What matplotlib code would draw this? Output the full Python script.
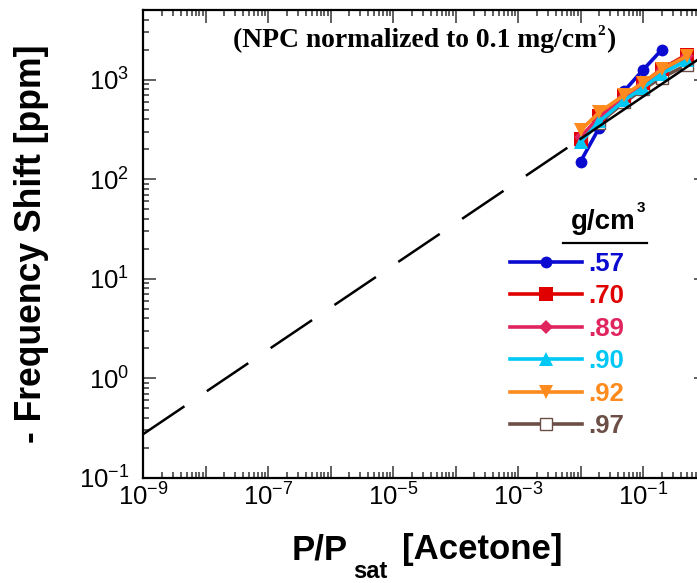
import matplotlib
matplotlib.use('Agg')
import matplotlib.pyplot as plt
from matplotlib.lines import Line2D
from matplotlib.ticker import LogLocator, NullFormatter

plt.rcParams['font.family'] = ['Liberation Sans', 'DejaVu Sans']
plt.rcParams['mathtext.fontset'] = 'custom'
plt.rcParams['mathtext.rm'] = 'Liberation Sans'
plt.rcParams['mathtext.it'] = 'Liberation Sans:italic'
plt.rcParams['mathtext.bf'] = 'Liberation Sans:bold'
plt.rcParams['mathtext.default'] = 'regular'

# ---- data ----
pressure = [0.01, 0.02, 0.05, 0.1, 0.2, 0.5]
densities = ['.57', '.70', '.89', '.90', '.92', '.97']
shift_057 = [150, 330, 770, 1250, 2000]
shift_070 = [255, 430, 690, 920, 1280, 1780]
shift_089 = [265, 420, 670, 900, 1250, 1720]
shift_090 = [235, 380, 620, 830, 1150, 1560]
shift_092 = [310, 470, 700, 930, 1270, 1720]
shift_097 = [240, 370, 590, 800, 1050, 1400]

fit_dash_x = [1e-9, 1e-2]
fit_dash_y = [0.275, 254]
fit_solid_x = [1e-2, 1.0]
fit_solid_y = [254, 1790]

xtick_values = [1e-9, 1e-8, 1e-7, 1e-6, 1e-5, 1e-4, 1e-3, 1e-2, 1e-1, 1]
xtick_labels = [r'$10^{-9}$', '', r'$10^{-7}$', '', r'$10^{-5}$', '', r'$10^{-3}$', '', r'$10^{-1}$', '']

series = [shift_057, shift_070, shift_089, shift_090, shift_092, shift_097]
colors = ['#0A0AD0', '#E00000', '#E0245E', '#00C8F5', '#FF8A1E', '#6B4F47']
markers = ['o', 's', 'D', '^', 'v', 's']
msizes = [8.5, 9.5, 7, 9.5, 10, 9]
zorders = [2.0, 2.2, 2.3, 2.4, 2.5, 2.1]

W, H = 697, 583
fig = plt.figure(figsize=(W / 100, H / 100), dpi=100)
ax = fig.add_axes([143 / W, 1 - 478 / H, (705.5 - 143) / W, (478 - 10) / H])

handles = []
for ys, c, m, ms, z, lab in zip(series, colors, markers, msizes, zorders, densities):
    mfc = 'white' if lab == '.97' else c
    mew = 1.0 if lab == '.97' else 0
    ln, = ax.plot(pressure[:len(ys)], ys, color=c, marker=m, ms=ms, lw=2.6,
                  mfc=mfc, mec=c, mew=mew, zorder=z, label=lab)
    handles.append(ln)

dash, = ax.plot(fit_dash_x, fit_dash_y, color='black', lw=1.8, zorder=3)
dash.set_dashes([20, 10.8])
ax.plot(fit_solid_x, fit_solid_y, color='black', lw=1.8, zorder=3)

ax.set_xscale('log')
ax.set_yscale('log')
ax.set_xlim(1e-9, 1)
ax.set_ylim(0.1, 5000)

ax.xaxis.set_minor_locator(LogLocator(base=10, subs=range(2, 10), numticks=20))
ax.yaxis.set_major_locator(LogLocator(base=10, numticks=20))
ax.yaxis.set_minor_locator(LogLocator(base=10, subs=range(2, 10), numticks=20))
ax.xaxis.set_minor_formatter(NullFormatter())
ax.yaxis.set_minor_formatter(NullFormatter())
ax.set_xticks(xtick_values)
ax.set_xticklabels(xtick_labels)

ax.tick_params(which='both', direction='in', top=True, right=True, width=1.2, colors='#444444',
               labelcolor='black')
ax.tick_params(which='major', length=9, labelsize=18.5)
ax.tick_params(axis='x', which='major', pad=4)
ax.tick_params(axis='y', which='major', pad=10)
ax.tick_params(which='minor', length=4.5)
for sp in ax.spines.values():
    sp.set_linewidth(1.6)

ax.set_ylabel('- Frequency Shift [ppm]', fontsize=25.6, fontweight='bold')
ax.yaxis.set_label_coords((49 - 143) / 562.5, 0.5)


def place_seq(pieces, x0, fig):
    """pieces: list of (text, baseline_y_px, gap_px, kwargs); placed left to right."""
    x = x0
    fig.canvas.draw()
    r = fig.canvas.get_renderer()
    out = []
    for txt, yb, gap, kw in pieces:
        x += gap
        t = fig.text(x / W, 1 - yb / H, txt, ha='left', va='baseline', **kw)
        bb = t.get_window_extent(renderer=r)
        x = bb.x1
        out.append(t)
    return out


serif = dict(family='Liberation Serif', fontweight='bold')
place_seq([('(NPC normalized to 0.1 mg/cm', 46.7, 0, dict(fontsize=19.9, **serif)),
           ('2', 35, 0.5, dict(fontsize=11, **serif)),
           (')', 46.7, 1.0, dict(fontsize=19.9, **serif))], 233, fig)

sans_b = dict(fontweight='bold')
place_seq([('P/P', 559, 0, dict(fontsize=25, **sans_b)),
           ('sat', 578, 5, dict(fontsize=17, **sans_b)),
           ('[Acetone]', 559, 14, dict(fontsize=25, **sans_b))], 292, fig)

place_seq([('g/cm', 229.5, 0, dict(fontsize=20, **sans_b)),
           ('3', 212, 1, dict(fontsize=11, **sans_b))], 571, fig)
fig.add_artist(Line2D([563 / W, 647 / W], [1 - 242.7 / H, 1 - 242.7 / H], color='black', lw=1.6,
                      transform=fig.transFigure))

leg = ax.legend(handles=handles, labels=densities, loc='upper left',
                bbox_to_anchor=(510 / W, 1 - 252 / H), bbox_transform=fig.transFigure,
                frameon=False, prop={'weight': 'bold', 'size': 18.5},
                handlelength=2.8, handletextpad=0.25, labelspacing=0.33,
                borderpad=0, borderaxespad=0)
for t, c in zip(leg.get_texts(), colors):
    t.set_color(c)

fig.savefig('out.png', dpi=100)
